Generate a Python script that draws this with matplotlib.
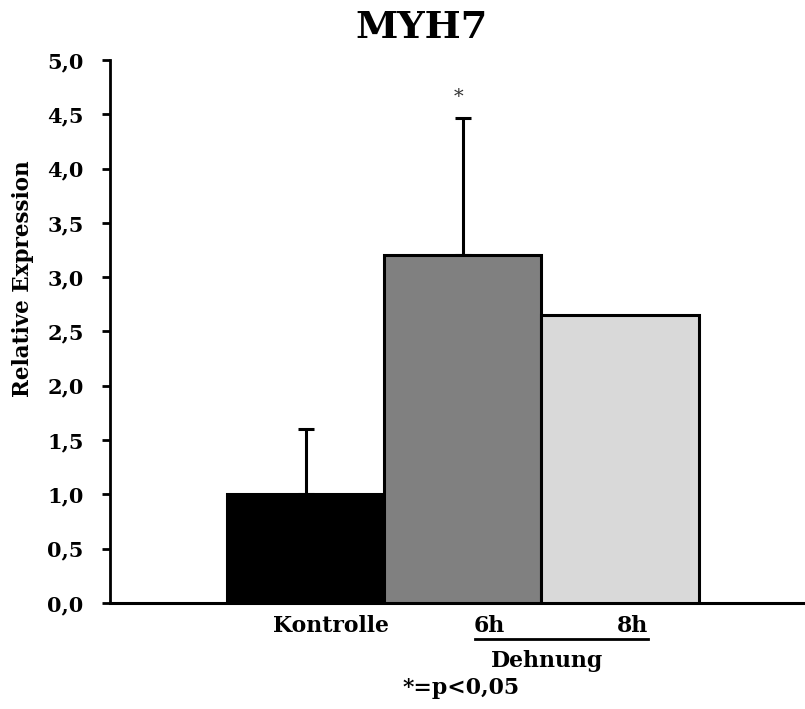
import matplotlib
matplotlib.use("Agg")
import matplotlib.pyplot as plt
import matplotlib.transforms as mtransforms

categories = ["Kontrolle", "6h", "8h"]
values = [1.0, 3.2, 2.65]
errors = [0.6, 1.27, 0.0]
colors = ["#000000", "#808080", "#d9d9d9"]
yticks = [0.0, 0.5, 1.0, 1.5, 2.0, 2.5, 3.0, 3.5, 4.0, 4.5, 5.0]
ytick_labels = [f"{v:.1f}".replace(".", ",") for v in yticks]

plt.rcParams["font.family"] = ["DejaVu Serif"]
plt.rcParams["font.weight"] = "bold"

fig = plt.figure(figsize=(8.05, 7.09), dpi=100)
ax = fig.add_axes([0.1366, 0.1495, 0.8634, 0.7659])

x = list(range(len(categories)))
ax.bar(x, values, width=1.0, color=colors, edgecolor="black", linewidth=2.2, zorder=3)
for xi, v, e in zip(x, values, errors):
    if e > 0:
        ax.errorbar(xi, v, yerr=[[0], [e]], fmt="none", ecolor="black",
                    elinewidth=2.2, capsize=5.5, capthick=2.2, zorder=2)

ax.text(1 - 0.03, 4.66, "*", ha="center", va="center", fontsize=14,
        fontweight="normal", color="#333333")

ax.set_xlim(-1.248, 3.178)
ax.set_ylim(0, 5.0)
ax.set_yticks(yticks)
ax.set_yticklabels(ytick_labels, fontsize=15, fontweight="bold")
ax.set_xticks([])
for s in ["top", "right"]:
    ax.spines[s].set_visible(False)
ax.spines["left"].set_linewidth(2.0)
ax.spines["bottom"].set_linewidth(2.2)
ax.tick_params(axis="y", direction="out", length=6, width=2.0, pad=13)
ax.set_ylabel("Relative Expression", fontsize=15.5, fontweight="bold")
ax.yaxis.set_label_coords(-0.110, 0.598)

fig.suptitle("MYH7", x=0.524, y=0.988, fontsize=27.5, fontweight="bold", va="top")

trans = mtransforms.blended_transform_factory(ax.transData, fig.transFigure)
def fy(py):
    return 1 - py / 709.0

fs = 15.8
ax.text(0.16, fy(626), categories[0], transform=trans, ha="center", va="center",
        fontsize=fs, fontweight="bold")
ax.text(1.17, fy(626), categories[1], transform=trans, ha="center", va="center",
        fontsize=fs, fontweight="bold")
ax.text(2.08, fy(626), categories[2], transform=trans, ha="center", va="center",
        fontsize=fs, fontweight="bold")
ax.plot([1.076, 2.178], [fy(638.5), fy(638.5)], transform=trans, color="black",
        linewidth=2.0, clip_on=False)
ax.text(1.535, fy(661), "Dehnung", transform=trans, ha="center", va="center",
        fontsize=fs, fontweight="bold")
ax.text(0.987, fy(688), "*=p<0,05", transform=trans, ha="center", va="center",
        fontsize=fs, fontweight="bold")

fig.savefig("out.png", dpi=100)
